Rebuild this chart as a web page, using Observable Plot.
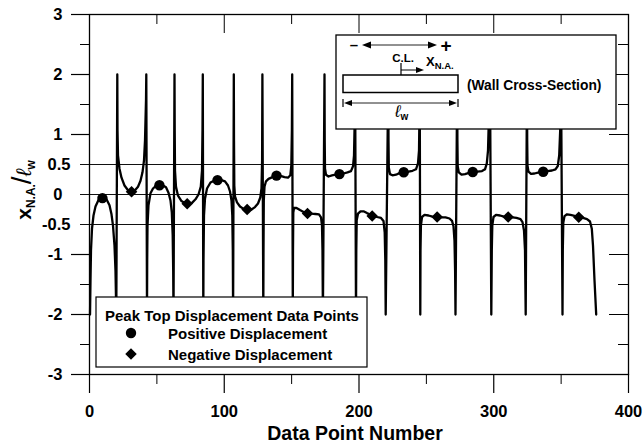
<!DOCTYPE html>
<html><head><meta charset="utf-8">
<script src="https://cdn.jsdelivr.net/npm/d3@7"></script>
<script src="https://cdn.jsdelivr.net/npm/@observablehq/plot@0.6"></script>
<style>html,body{margin:0;padding:0;background:#fff;}</style>
</head><body><div id="chart"></div>
<script>
// ---- data ----
const curveX = [
 0.4,0.74,1.11,1.86,2.97,4.45,6.68,9.65,12.62,14.84,16.33,17.44,18.55,19.29,19.89,
 20.63,20.78,21.15,22.26,23.75,25.97,28.57,31.17,33.77,35.99,37.85,39.33,40.45,41.19,41.93,42.15,
 42.67,42.82,43.04,43.78,45.27,47.12,49.35,51.95,54.55,56.77,58.63,60.11,61.08,61.74,62.11,62.34,
 63.08,63.23,63.45,64.19,65.68,68.27,71.24,73.47,76.07,78.66,80.89,82.60,83.49,83.86,84.08,
 84.45,84.60,84.97,85.71,87.20,89.80,92.39,94.99,97.96,100.56,102.78,104.27,105.38,105.97,106.35,106.57,
 107.09,107.24,107.46,107.98,109.46,111.69,114.29,117.25,120.22,122.82,125.05,126.75,127.64,128.09,128.31,
 128.98,129.13,129.35,129.87,130.98,132.84,135.81,138.78,141.74,144.71,147.31,149.02,149.76,150.20,150.43,
 150.87,151.02,151.24,151.76,153.62,156.22,158.81,161.78,164.75,167.72,170.32,171.80,172.54,172.91,173.21,
 174.40,174.55,174.77,175.51,177.37,179.96,182.56,185.53,188.50,191.47,194.06,195.55,196.29,196.81,197.11,
 197.77,197.99,198.29,199.26,201.11,203.34,205.94,209.65,213.36,216.33,218.18,219.07,219.52,219.81,
 221.74,221.89,222.11,223.01,224.86,227.46,230.43,233.40,236.73,239.70,242.30,243.78,244.53,244.90,245.05,
 245.49,245.64,245.94,246.75,248.61,251.58,254.55,258.04,261.22,264.19,267.16,269.02,270.13,270.87,271.32,271.61,
 272.88,273.03,273.25,274.06,276.07,278.66,281.63,284.45,287.94,291.28,293.51,294.84,295.73,296.33,297.2,
 298.18,298.55,298.92,299.81,301.67,304.64,307.61,310.72,313.91,316.88,319.85,321.34,322.45,323.19,323.71,
 324.68,324.82,325.05,325.79,327.64,330.24,333.58,336.70,339.89,343.23,345.83,347.53,348.57,349.31,349.91,
 351.02,351.24,351.61,352.50,354.36,356.96,359.93,363.12,366.23,369.20,371.43,372.77,373.65,374.77,376.03
];
const curveY = [
 -2,-1.43,-0.93,-0.57,-0.35,-0.20,-0.09,-0.05,-0.08,-0.18,-0.33,-0.52,-0.85,-1.27,-2,
 2,1.07,0.65,0.43,0.28,0.15,0.07,0.04,0.07,0.13,0.23,0.37,0.57,0.90,1.57,2,
 -2,-1.10,-0.52,-0.18,0.02,0.10,0.145,0.16,0.15,0.12,0.03,-0.10,-0.30,-0.68,-1.27,-2,
 2,1.07,0.40,0.13,-0.02,-0.11,-0.15,-0.16,-0.14,-0.08,0.0,0.13,0.40,1.07,2,
 -2,-1.10,-0.35,-0.07,0.10,0.20,0.23,0.245,0.24,0.22,0.15,0.05,-0.10,-0.35,-0.93,-2,
 2,0.90,0.15,-0.03,-0.13,-0.20,-0.24,-0.26,-0.25,-0.21,-0.15,-0.05,0.10,0.57,2,
 -2,-0.93,-0.10,0.13,0.22,0.26,0.29,0.31,0.31,0.29,0.28,0.32,0.48,1.07,2,
 -2,-0.93,-0.30,-0.225,-0.225,-0.26,-0.29,-0.31,-0.32,-0.325,-0.33,-0.38,-0.52,-0.93,-2,
 2,0.90,0.43,0.33,0.30,0.32,0.33,0.34,0.35,0.37,0.39,0.47,0.65,1.23,2,
 -2,-0.93,-0.43,-0.32,-0.28,-0.28,-0.31,-0.35,-0.375,-0.39,-0.44,-0.63,-1.10,-2,
 2,0.90,0.45,0.34,0.32,0.33,0.36,0.37,0.38,0.395,0.42,0.52,0.73,1.40,2,
 -2,-0.93,-0.52,-0.375,-0.34,-0.35,-0.37,-0.38,-0.38,-0.38,-0.40,-0.44,-0.53,-0.77,-1.27,-2,
 2,0.90,0.47,0.37,0.33,0.34,0.36,0.37,0.38,0.39,0.42,0.52,0.73,1.23,2,
 -2,-0.93,-0.52,-0.375,-0.34,-0.35,-0.37,-0.38,-0.38,-0.39,-0.41,-0.46,-0.60,-0.93,-2,
 2,0.90,0.48,0.38,0.345,0.35,0.37,0.38,0.39,0.40,0.42,0.475,0.65,1.07,2,
 -2,-0.93,-0.47,-0.36,-0.33,-0.34,-0.355,-0.38,-0.39,-0.41,-0.45,-0.57,-0.85,-1.43,-2
];
const posX = [9.6, 51.9, 95.0, 138.8, 185.5, 233.2, 284.4, 336.7];
const posY = [-0.06, 0.155, 0.24, 0.315, 0.34, 0.37, 0.375, 0.38];
const negX = [31.2, 72.5, 117.0, 161.8, 209.8, 258.0, 310.7, 363.1];
const negY = [0.045, -0.155, -0.25, -0.315, -0.36, -0.375, -0.375, -0.38];

const yMajorTicks = [-3, -2, -1, 1, 2, 3];
const yMinorTicks = [-2.5, -1.5, 1.5, 2.5];
const yGridLines = [0.5, 0, -0.5];
const yIntLabels = [-3, -2, -1, 0, 1, 2, 3];
const yHalfLabels = [-0.5, 0.5];
const yRightMajor = [-2, -1, 1, 2];
const xMajorTicks = [0, 100, 200, 300, 400];
const xTopMajor = [100, 200, 300];
const xMinorTicks = [50, 150, 250, 350];

const xTitle = "Data Point Number";
const legendTitle = "Peak Top Displacement Data Points";
const legendLabels = ["Positive Displacement", "Negative Displacement"];
const insetCaption = "(Wall Cross-Section)";

// ---- chart ----
const FONT = "'Liberation Sans', Arial, Helvetica, sans-serif";
const W = 643, H = 443, ML = 89, MR = 15, MT = 14, MB = 69;
const FW = W - ML - MR, FH = H - MT - MB;
const R = 5.2;
const curve = curveX.map((x, i) => [x, curveY[i]]);
const pos = posX.map((x, i) => [x, posY[i]]);
const neg = negX.map((x, i) => [x, negY[i]]);
const fmt = d => String(d);
const id = d => d;

const plot = Plot.plot({
  width: W, height: H,
  marginLeft: ML, marginRight: MR, marginTop: MT, marginBottom: MB,
  x: {domain: [0, 400], axis: null},
  y: {domain: [-3, 3], axis: null},
  style: {fontFamily: FONT, background: "white", color: "black", overflow: "visible"},
  marks: [
    // horizontal grid lines at 0.5, 0, -0.5 (extend a little left of the axis)
    Plot.tickY(yGridLines, {y: id, insetLeft: -9, stroke: "#111", strokeWidth: 1}),
    // left ticks (outward)
    Plot.tickY(yMajorTicks, {y: id, insetLeft: -18, insetRight: FW, stroke: "black", strokeWidth: 1.2}),
    Plot.tickY(yMinorTicks, {y: id, insetLeft: -9, insetRight: FW, stroke: "black", strokeWidth: 1}),
    // right ticks (inward)
    Plot.tickY(yRightMajor, {y: id, insetLeft: FW - 19, stroke: "black", strokeWidth: 1}),
    Plot.tickY(yMinorTicks, {y: id, insetLeft: FW - 10, stroke: "black", strokeWidth: 1}),
    // bottom ticks (outward)
    Plot.tickX(xMajorTicks, {x: id, insetTop: FH, insetBottom: -19, stroke: "black", strokeWidth: 1.2}),
    Plot.tickX(xMinorTicks, {x: id, insetTop: FH, insetBottom: -10, stroke: "black", strokeWidth: 1}),
    // top ticks (inward)
    Plot.tickX(xTopMajor, {x: id, insetBottom: FH - 19, stroke: "black", strokeWidth: 1}),
    Plot.tickX(xMinorTicks, {x: id, insetBottom: FH - 10, stroke: "black", strokeWidth: 1}),
    // tick labels
    Plot.axisY({anchor: "left", ticks: yIntLabels, tickSize: 0, tickPadding: 27, tickFormat: fmt, fontSize: 16.5, fontWeight: "bold", label: null}),
    Plot.axisY({anchor: "left", ticks: yHalfLabels, tickSize: 0, tickPadding: 19, tickFormat: fmt, fontSize: 16.5, fontWeight: "bold", label: null}),
    Plot.axisX({anchor: "bottom", ticks: xMajorTicks, tickSize: 0, tickPadding: 31, tickFormat: fmt, fontSize: 16.5, fontWeight: "bold", label: null}),
    Plot.frame({stroke: "black", strokeWidth: 1.3}),
    Plot.line(curve, {stroke: "black", strokeWidth: 2.3, strokeLinejoin: "round"}),
    Plot.dot(pos, {symbol: "circle", r: R, fill: "black", stroke: "none"}),
    Plot.dot(neg, {symbol: "diamond2", r: R, fill: "black", stroke: "none"})
  ]
});
document.getElementById("chart").appendChild(plot);

// ---- annotations (titles, inset diagram, legend) ----
const svg = d3.select(plot);
const g = svg.append("g").attr("font-family", FONT).attr("fill", "black").attr("text-anchor", "start");

// x title
g.append("text").attr("x", 355).attr("y", 440).attr("text-anchor", "middle")
  .attr("font-size", 19.5).attr("font-weight", "bold").text(xTitle);

// y title  x_{N.A.} / l_w
const yt = g.append("text").attr("transform", "translate(31,190) rotate(-90)")
  .attr("text-anchor", "middle").attr("font-weight", "bold");
yt.append("tspan").attr("font-size", 21).text("x");
yt.append("tspan").attr("font-size", 12).attr("dy", 4).text("N.A.");
yt.append("tspan").attr("font-size", 28).attr("font-weight", "normal").attr("dy", -4).text("/");
yt.append("tspan").attr("font-size", 21).attr("font-style", "italic").attr("font-weight", "normal").text("\u2113");
yt.append("tspan").attr("font-size", 12).attr("dy", 4).text("w");

// inset box
const ins = g.append("g");
ins.append("rect").attr("x", 336).attr("y", 35).attr("width", 280).attr("height", 94)
  .attr("fill", "white").attr("stroke", "black").attr("stroke-width", 1.3);
ins.append("text").attr("x", 354).attr("y", 50).attr("text-anchor", "middle")
  .attr("font-size", 15).attr("font-weight", "bold").text("\u2013");
ins.append("text").attr("x", 446).attr("y", 51.5).attr("text-anchor", "middle")
  .attr("font-size", 19).attr("font-weight", "bold").text("+");
ins.append("line").attr("x1", 368).attr("x2", 431).attr("y1", 45).attr("y2", 45)
  .attr("stroke", "#222").attr("stroke-width", 1);
ins.append("path").attr("d", "M362,45L371,41.5L371,48.5Z");
ins.append("path").attr("d", "M437,45L428,41.5L428,48.5Z");
ins.append("text").attr("x", 403).attr("y", 62).attr("text-anchor", "middle")
  .attr("font-size", 11.5).attr("font-weight", "bold").text("C.L.");
ins.append("line").attr("x1", 401).attr("x2", 401).attr("y1", 63).attr("y2", 92.5)
  .attr("stroke", "black").attr("stroke-width", 1.2);
ins.append("line").attr("x1", 401).attr("x2", 418).attr("y1", 70).attr("y2", 70)
  .attr("stroke", "black").attr("stroke-width", 1);
ins.append("path").attr("d", "M424,70L416,67L416,73Z");
const xna = ins.append("text").attr("x", 426).attr("y", 66).attr("font-weight", "bold");
xna.append("tspan").attr("font-size", 13).text("X");
xna.append("tspan").attr("font-size", 9.5).attr("dy", 3).text("N.A.");
ins.append("rect").attr("x", 343).attr("y", 75).attr("width", 115).attr("height", 17.5)
  .attr("fill", "white").attr("stroke", "black").attr("stroke-width", 1.5);
ins.append("text").attr("x", 467).attr("y", 90).attr("font-size", 13.8)
  .attr("font-weight", "bold").text(insetCaption);
ins.append("line").attr("x1", 350).attr("x2", 451).attr("y1", 103).attr("y2", 103)
  .attr("stroke", "#222").attr("stroke-width", 1);
ins.append("line").attr("x1", 343).attr("x2", 343).attr("y1", 99).attr("y2", 107).attr("stroke", "black").attr("stroke-width", 1.2);
ins.append("line").attr("x1", 458).attr("x2", 458).attr("y1", 99).attr("y2", 107).attr("stroke", "black").attr("stroke-width", 1.2);
ins.append("path").attr("d", "M344,103L352,100L352,106Z");
ins.append("path").attr("d", "M457,103L449,100L449,106Z");
const lw = ins.append("text").attr("x", 395).attr("y", 117);
lw.append("tspan").attr("font-size", 17).attr("font-style", "italic").text("\u2113");
lw.append("tspan").attr("font-size", 10).attr("font-weight", "bold").attr("dy", 3).text("w");

// legend
const lg = g.append("g");
lg.append("rect").attr("x", 96).attr("y", 297).attr("width", 271).attr("height", 70)
  .attr("fill", "white").attr("stroke", "black").attr("stroke-width", 1.2);
lg.append("text").attr("x", 105).attr("y", 320.5).attr("font-size", 15)
  .attr("font-weight", "bold").text(legendTitle);
lg.append("circle").attr("cx", 131).attr("cy", 333).attr("r", R);
lg.append("path").attr("transform", "translate(131,354)")
  .attr("d", d3.symbol(d3.symbolDiamond2, R * R * Math.PI)());
lg.append("text").attr("x", 168).attr("y", 338.5).attr("font-size", 15)
  .attr("font-weight", "bold").text(legendLabels[0]);
lg.append("text").attr("x", 168).attr("y", 359.5).attr("font-size", 15)
  .attr("font-weight", "bold").text(legendLabels[1]);
</script>
</body></html>
